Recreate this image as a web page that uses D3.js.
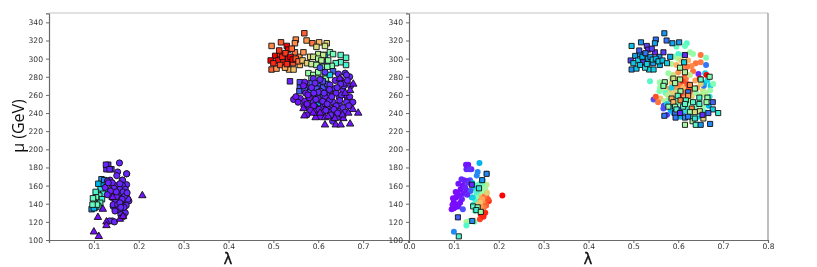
<!DOCTYPE html>
<html>
<head>
<meta charset="utf-8">
<script src="https://cdnjs.cloudflare.com/ajax/libs/d3/7.8.5/d3.min.js"></script>
<style>
body { margin: 0; background: white; }
svg { display: block; }
text { font-family: "DejaVu Sans", sans-serif; fill: #333; }
</style>
</head>
<body>
<script>
// every row is [lambda, mu, colour left panel, colour right panel]
// arrays are split by marker shape: left shape -> right shape
let squareToSquare = [
	[.496,314,.82,.28],[.517,318,.88,.2],[.569,328,.88,.2],[.55,321,.82,.15],[.548,317,.82,.22],[.574,320,.8,.15],
	[.587,317,.85,.22],[.602,318,.75,.2],[.53,314,1,.08],[.533,310,1,.05],[.504,303,1,.22],[.515,305,.95,.2],
	[.494,298,1,.08],[.496,288,.88,.2],[.507,289,.8,.28],[.535,288,.75,.3],[.522,296,.97,.08],[.533,300,1,.25],
	[.544,295,.9,.22],[.559,293,.75,.25],[.558,302,.8,.2],[.582,302,.68,.22],[.548,307,.85,.05],[.567,307,.8,.08],
	[.51,298,.98,.3],[.52,302,.95,.25],[.527,306,.93,.15],[.538,302,1,.2],[.543,299,1,.3],[.515,293,.9,.28],
	[.526,290,.78,.32],[.545,288,.72,.3],[.55,300,.9,.25],[.556,297,.85,.3],[.565,298,.72,.28],[.575,295,.7,.3],
	[.513,309,.93,.12],[.541,311,.86,.08],[.5,295,.95,.28],[.53,294,.95,.3],[.615,304,.25,.05],[.613,296,.12,.3]
]
let squareToCircle = [
	[.619,317,.7,.42],[.615,314,.65,.45],[.596,313,.68,.45],[.626,307,.52,.55],[.633,305,.48,.55],[.65,304,.42,.85],
	[.662,301,.42,.5],[.65,296,.42,.84],[.639,295,.42,.85],[.662,293,.4,.15],[.63,292,.5,.82],[.633,286,.12,.85],
	[.6,305,.62,.4],[.611,304,.62,.4],[.589,302,.65,.5],[.6,300,.6,.6],[.607,298,.6,.7],[.622,298,.55,.75],
	[.585,294,.62,.6],[.596,293,.58,.75],[.611,291,.55,.8],[.62,291,.5,.85],[.578,284,.55,.55],[.589,282,.55,.65],
	[.6,285,.55,.8],[.615,282,.5,.9],[.585,278,.5,.6],[.6,278,.52,.7],[.617,278,.52,.85],[.626,282,.3,.62],
	[.537,275,.05,.42],[.559,274,.08,.55],[.57,272,.1,.5],[.559,268,.1,.55],[.558,264,.12,.5],[.574,267,.1,.8],
	[.589,271,.1,.6],[.604,270,.1,.85],[.622,269,.1,.95],[.582,263,.15,.7],[.593,262,.1,.8],[.605,264,.35,.9],
	[.605,260,.35,1],[.626,263,.1,.85],[.611,268,.1,.75],[.579,258,.35,.7],[.589,258,.38,.6],[.599,251,.25,.5],
	[.57,265,.12,.6],[.596,267,.1,.8],[.62,272,.1,.9],[.585,273,.1,.72],[.61,275,.1,.92],
	[.132,183,.05,.02],[.128,178,.05,.05],[.139,178,.05,.04],[.127,183,.05,.03],[.135,178,.05,.06],
	[.117,167,.2,.05],[.123,166,.18,.04],[.12,160,.25,.02],[.128,155,.32,.02],[.11,162,.25,.03],[.115,156,.33,.02],
	[.121,151,.38,.03],[.108,151,.45,.01],[.112,149,.43,.03],[.104,153,.4,.01],[.105,147,.47,.01],[.118,145,.38,.04],
	[.114,141,.42,.02],[.1,142,.52,.01],[.098,146,.45,.01],[.11,137,.4,.03],[.103,136,.3,.02],[.095,134,.2,.01],
	[.1,135,.25,.01],[.107,139,.45,.02],[.097,139,.45,.01]
]
let circleToSquare = [
	[.65,277,.04,.45],[.67,280,.05,.5],[.604,290,.1,.55],[.615,285,.08,.6],[.589,278,.05,.65],[.604,277,.05,.58],
	[.57,274,.03,.55],[.567,270,.03,.52],[.593,273,.05,.58],[.626,271,.06,.82],[.637,267,.06,.55],[.622,263,.05,.15],
	[.605,264,.06,.55],[.622,259,.06,.8],[.599,259,.05,.42],[.585,256,.04,.78],[.589,252,.04,.75],[.605,254,.04,.82],
	[.617,254,.05,.42],[.633,252,.05,.42],[.647,257,.04,.4],[.665,257,.04,.55],[.663,252,.05,.55],[.647,250,.05,.4],
	[.578,247,.03,.55],[.593,247,.04,.5],[.611,247,.04,.42],[.63,245,.04,.82],[.648,242,.05,.65],[.626,241,.05,.55],
	[.637,241,.05,.68],[.615,250,.04,.42],[.593,240,.03,.15],[.596,244,.03,.4],[.677,252,.04,.12],[.632,231,.05,.6],
	[.141,121,.05,.18],[.143,137,.05,.42],[.153,136,.05,.5],[.15,133,.05,.38],[.16,131,.05,.55],[.173,173,.05,.18],
	[.163,166,.05,.2],[.14,161,.05,.05],[.156,157,.05,.35]
]
let circleToCircle = [
	[.545,255,.03,.1],[.56,256,.03,.72],[.555,252,.03,.85],[.57,253,.03,.6],[.58,257,.03,.45],[.568,248,.04,.1],
	[.6,263,.05,.55],[.615,258,.04,.78],[.64,262,.04,.55],[.655,265,.04,.65],[.657,270,.05,.15],[.672,270,.04,.3],
	[.645,283,.05,.05],[.66,284,.05,.3],[.663,282,.05,1],[.658,273,.04,.25],[.638,276,.04,.78],[.665,276,.04,.32],
	[.59,248,.03,.2],[.602,244,.03,.1],[.62,246,.04,.4],[.64,248,.04,.5],[.655,246,.05,.55],[.61,240,.03,.2],
	[.628,238,.04,.35],[.645,236,.04,.3],[.572,262,.03,.45],[.585,268,.04,.3],[.625,254,.04,.6],[.575,238,.03,.08],
	[.55,258,.03,.9],[.575,250,.03,.3],[.583,243,.03,.25],[.6,256,.04,.85],[.61,253,.04,.9],[.63,258,.04,.7],
	[.648,254,.04,.5],[.66,260,.04,.45],[.67,258,.04,.35],[.652,260,.05,.6],[.635,244,.04,.45],[.617,243,.04,.35],
	[.605,236,.03,.25],[.66,241,.04,.4],[.668,248,.04,.25],[.65,272,.05,.7],[.642,268,.05,.8],[.625,266,.05,.9],
	[.613,262,.05,.85],[.59,262,.04,.7],[.577,260,.03,.62],[.595,255,.04,.55],[.643,240,.04,.42],[.62,250,.04,.5],
	[.157,185,.05,.25],[.153,175,.05,.18],[.151,171,.05,.18],[.173,173,.05,.22],[.136,166,.04,.1],[.164,166,.05,.28],
	[.173,161,.05,.62],[.164,160,.05,.5],[.15,160,.04,.42],[.141,163,.04,.25],[.145,157,.04,.3],[.158,156,.05,.5],
	[.17,156,.05,.58],[.137,154,.04,.12],[.152,151,.04,.35],[.162,150,.05,.68],[.172,149,.05,.88],[.178,143,.05,.95],
	[.168,144,.05,.82],[.157,146,.05,.78],[.148,144,.04,.4],[.14,147,.04,.3],[.143,139,.04,.35],[.153,139,.05,.68],
	[.163,139,.05,.8],[.172,138,.05,.88],[.155,134,.05,.75],[.165,133,.05,.82],[.17,130,.05,.95],[.147,132,.04,.45],
	[.16,128,.05,.98],[.166,126,.05,1],[.135,121,.05,.45],[.146,120,.05,.5],[.13,165,.04,.04],
	[.13,150,.04,.05],[.125,158,.04,.04],[.132,163,.04,.06],[.165,153,.05,.55],[.16,143,.05,.85],[.15,148,.04,.5],
	[.176,145,.05,.9],[.168,148,.05,.85],[.163,145,.05,.78],[.158,141,.05,.72],[.167,136,.05,.85],[.16,136,.05,.8],
	[.174,152,.05,.7],[.15,153,.04,.4],[.158,162,.05,.45]
]
let triangleToSquare = [
	[.569,237,.02,.15],[.594,235,.02,.15],[.615,227,.03,.58],[.639,227,.03,.42],[.65,227,.03,.2],[.671,228,.03,.18],
	[.689,240,.03,.38],[.677,244,.03,.3],[.656,234,.03,.7],[.637,234,.03,.35],[.615,235,.03,.18],[.622,236,.03,.16],
	[.604,240,.02,.05],[.654,238,.03,.05],[.667,240,.03,.12],[.111,104,.02,.4],[.109,125,.02,.12]
]
let triangleToCircle = [
	[.589,240,.02,.22],[.567,245,.02,.1],[.678,272,.03,.5],[.671,265,.03,.55],[.648,278,.03,.98],[.66,262,.03,.6],
	[.208,149,.03,1],[.1,109,.02,.18],[.12,134,.02,.1],[.128,120,.02,.58],[.128,116,.02,.42],
	[.158,123,.02,.92],[.165,126,.02,.95],[.142,147,.02,.3]
]

let xTicksLeft = [.1,.2,.3,.4,.5,.6,.7]
let xTicksRight = [0,.1,.2,.3,.4,.5,.6,.7,.8]
let yTicks = [100,120,140,160,180,200,220,240,260,280,300,320,340]

let chartWidth = 817
let chartHeight = 267
let plotTop = 13
let plotBottom = 240
let panelLeft = 49
let panelMid = 409
let panelRight = 768

let svg = d3.select("body")
	.append("svg")
	.attr("width", chartWidth)
	.attr("height", chartHeight)

// the reference is a soft, resampled picture
svg.append("filter").attr("id", "soft")
	.append("feGaussianBlur").attr("stdDeviation", .35)

let root = svg.append("g").attr("filter", "url(#soft)")

let xLeft = d3.scaleLinear().domain([0, .8]).range([panelLeft, panelMid - 1])
let xRight = d3.scaleLinear().domain([0, .8]).range([panelMid, panelRight])
let y = d3.scaleLinear().domain([100, 350]).range([plotBottom, plotTop + 0.3])

// matplotlib "rainbow" colormap
let rainbow = function(t) {
	let r = Math.min(1, Math.abs(2 * t - .5))
	let g = Math.sin(Math.PI * t)
	let b = Math.cos(Math.PI * t / 2)
	return d3.rgb(r * 255, g * 255, b * 255).formatHex()
}

let drawAxes = function(x, ticks) {
	let xAxis = d3.axisBottom(x).tickValues(ticks).tickFormat(d3.format(".1f")).tickSize(3).tickPadding(0.5)
	let yAxis = d3.axisLeft(y).tickValues(yTicks).tickFormat(d3.format("d")).tickSize(3).tickPadding(3)
	let gx = root.append("g").attr("transform", "translate(0," + plotBottom + ")").call(xAxis)
	let gy = root.append("g").attr("transform", "translate(" + x.range()[0] + ",0)").call(yAxis)
	for (let g of [gx, gy]) {
		g.selectAll("path,line").attr("stroke", "#6a6a6a")
		g.selectAll("text").attr("font-size", 7.6).attr("fill", "#444")
		g.selectAll(".domain").attr("stroke-width", 1.2)
	}
	// light frame line along the top
	root.append("line")
		.attr("x1", x.range()[0]).attr("x2", x.range()[1])
		.attr("y1", plotTop).attr("y2", plotTop)
		.attr("stroke", "#c4c4c4").attr("stroke-width", 1.2)
}

drawAxes(xLeft, xTicksLeft)
drawAxes(xRight, xTicksRight)

// right edge of the right panel
root.append("line")
	.attr("x1", panelRight).attr("x2", panelRight)
	.attr("y1", plotTop).attr("y2", plotBottom)
	.attr("stroke", "#8a8a8a").attr("stroke-width", 1.1)

let addMarks = function(data, x, shape, area, colorIndex, edge) {
	root.append("g").selectAll("path")
		.data(data)
		.enter()
		.append("path")
		.attr("d", d3.symbol().type(shape).size(area))
		.attr("transform", d => "translate(" + x(d[0]) + "," + y(d[1]) + ")")
		.attr("fill", d => rainbow(d[colorIndex]))
		.attr("stroke", edge ? "#111" : "none")
		.attr("stroke-width", edge ? .9 : 0)
}

// left panel, colours in index 2
let leftSquares = squareToSquare.concat(squareToCircle)
let leftCircles = circleToSquare.concat(circleToCircle)
let leftTriangles = triangleToSquare.concat(triangleToCircle)
addMarks(leftSquares, xLeft, d3.symbolSquare, 30, 2, true)
addMarks(leftCircles, xLeft, d3.symbolCircle, 30, 2, true)
addMarks(leftTriangles, xLeft, d3.symbolTriangle, 24, 2, true)

// right panel, colours in index 3
let rightCircles = squareToCircle.concat(circleToCircle, triangleToCircle)
let rightSquares = squareToSquare.concat(circleToSquare, triangleToSquare)
addMarks(rightCircles, xRight, d3.symbolCircle, 28, 3, false)
addMarks(rightSquares, xRight, d3.symbolSquare, 26, 3, true)

// axis labels
root.append("text")
	.text("μ (GeV)")
	.attr("transform", "translate(24,126) rotate(-90)")
	.attr("text-anchor", "middle")
	.attr("font-family", "'Open Sans', sans-serif")
	.style("font-family", "'Open Sans', sans-serif")
	.attr("font-size", 16)
	.style("fill", "#111")

root.append("text")
	.text("λ")
	.attr("x", 228).attr("y", 264)
	.attr("text-anchor", "middle")
	.attr("font-size", 15)
	.style("fill", "#111")
	.attr("stroke", "#111")
	.attr("stroke-width", .3)

root.append("text")
	.text("λ")
	.attr("x", 588).attr("y", 264)
	.attr("text-anchor", "middle")
	.attr("font-size", 15)
	.style("fill", "#111")
	.attr("stroke", "#111")
	.attr("stroke-width", .3)
</script>
</body>
</html>
